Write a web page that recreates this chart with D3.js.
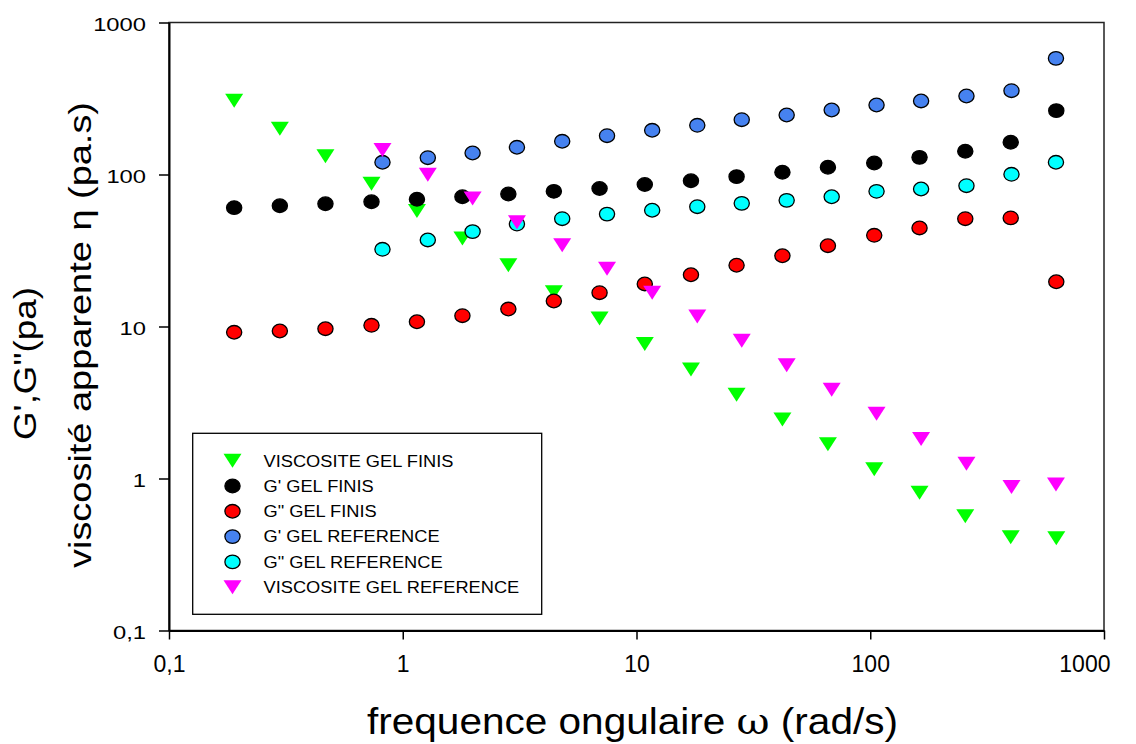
<!DOCTYPE html>
<html lang="fr">
<head>
    <meta charset="UTF-8">
    <title>G', G'' et viscosité</title>
    <script src="https://d3js.org/d3.v7.min.js"></script>
    <style>
        body {
            margin: 0;
            background: white;
            font-family: "Liberation Sans", Arial, sans-serif;
        }
        svg text {
            fill: black;
        }
    </style>
</head>
<body>
    <svg id="chart"></svg>

    <script>
        // frequencies (rad/s)
        const freqFinis = [0.19, 0.298, 0.467, 0.735, 1.15, 1.8, 2.83, 4.43, 6.95, 10.85,
            17.1, 26.8, 42.1, 65.9, 104, 162.5, 255, 399, 625];
        const freqRef = [0.819, 1.28, 1.99, 3.08, 4.81, 7.48, 11.67, 18.2, 28.2, 43.9,
            68.4, 106.4, 165, 258, 402, 623];

        // gel finis
        const viscFinis = [306, 200, 132, 87, 57.5, 37.9, 25.3, 16.8, 11.3, 7.67,
            5.21, 3.56, 2.44, 1.68, 1.15, 0.806, 0.564, 0.41, 0.404];
        const gPrimeFinis = [60.5, 62.3, 64.2, 66.2, 68.7, 71.4, 74.4, 77.5, 80.9, 86.0,
            91.0, 96.8, 103.4, 111.5, 119, 129.7, 142.2, 163, 263];
        const gSecondFinis = [9.16, 9.34, 9.67, 10.18, 10.75, 11.78, 13.03, 14.71, 16.69, 19.05,
            21.9, 25.3, 29.2, 34.0, 39.8, 44.5, 51.2, 51.8, 19.7];

        // gel reference
        const gPrimeRef = [120.3, 129, 138.5, 151, 165.4, 180, 195.4, 210.7, 229.4, 246.3,
            265.7, 286.6, 304.6, 328.5, 355.9, 581];
        const gSecondRef = [32.2, 37.1, 42.1, 47.2, 51.2, 54.9, 58.2, 61.4, 64.6, 67.6,
            71.4, 77.5, 80.3, 84.4, 100.3, 120.3];
        const viscRef = [145, 99.7, 69.5, 48.6, 34.2, 24.0, 16.7, 11.63, 8.05, 5.56,
            3.84, 2.67, 1.82, 1.25, 0.879, 0.913];

        const tickValues = [0.1, 1, 10, 100, 1000];
        const seriesNames = ["VISCOSITE GEL FINIS", "G' GEL FINIS", "G\" GEL FINIS",
            "G' GEL REFERENCE", "G\" GEL REFERENCE", "VISCOSITE GEL REFERENCE"];

        // build series (legend order = drawing order)
        const series = [
            { name: seriesNames[0], x: freqFinis, y: viscFinis, shape: 'tri', fill: '#00ff00' },
            { name: seriesNames[1], x: freqFinis, y: gPrimeFinis, shape: 'circle', fill: '#000000' },
            { name: seriesNames[2], x: freqFinis, y: gSecondFinis, shape: 'circle', fill: '#ff0000' },
            { name: seriesNames[3], x: freqRef, y: gPrimeRef, shape: 'circle', fill: '#4682f0' },
            { name: seriesNames[4], x: freqRef, y: gSecondRef, shape: 'circle', fill: '#00ffff' },
            { name: seriesNames[5], x: freqRef, y: viscRef, shape: 'tri', fill: '#ff00ff' }
        ];

        const svgWidth = 1136;
        const svgHeight = 744;
        const margin = { top: 22.5, right: 32, bottom: 113.5, left: 169 };
        const chartWidth = svgWidth - margin.left - margin.right;
        const chartHeight = svgHeight - margin.top - margin.bottom;

        const svg = d3.select('#chart')
            .attr('width', svgWidth)
            .attr('height', svgHeight);

        const xScale = d3.scaleLog()
            .domain([0.1, 1000])
            .range([margin.left, margin.left + chartWidth]);

        const yScale = d3.scaleLog()
            .domain([0.1, 1000])
            .range([margin.top + chartHeight, margin.top]);

        const fmt = d => String(d).replace('.', ',');

        // stretch a text horizontally by factor k
        function stretch(sel, k) {
            sel.each(function () {
                const w = this.getComputedTextLength();
                d3.select(this)
                    .attr('textLength', w * k)
                    .attr('lengthAdjust', 'spacingAndGlyphs');
            });
        }

        // frame (top / right)
        svg.append('rect')
            .attr('x', margin.left)
            .attr('y', margin.top)
            .attr('width', chartWidth)
            .attr('height', chartHeight)
            .attr('fill', 'none')
            .attr('stroke', '#222')
            .attr('stroke-width', 1.5);

        // x axis
        const xAxis = svg.append('g')
            .attr('transform', `translate(0,${margin.top + chartHeight})`)
            .call(d3.axisBottom(xScale)
                .tickValues(tickValues)
                .tickFormat(fmt)
                .tickSize(9)
                .tickSizeOuter(0)
                .tickPadding(16));
        xAxis.select('.domain').attr('stroke-width', 1.8);
        xAxis.selectAll('.tick line').attr('stroke-width', 1.5);
        xAxis.selectAll('text')
            .attr('font-family', '"Liberation Sans", Arial, sans-serif')
            .attr('font-size', 23)
            .attr('fill', 'black');
        xAxis.selectAll('.tick')
            .filter(d => d === 1000)
            .select('text')
            .attr('text-anchor', 'end')
            .attr('dx', 6);

        // y axis
        const yAxis = svg.append('g')
            .attr('transform', `translate(${margin.left},0)`)
            .call(d3.axisLeft(yScale)
                .tickValues(tickValues)
                .tickFormat(fmt)
                .tickSize(10)
                .tickSizeOuter(0)
                .tickPadding(13));
        yAxis.select('.domain').attr('stroke-width', 2);
        yAxis.selectAll('.tick line').attr('stroke-width', 1.5);
        yAxis.selectAll('text')
            .attr('font-family', '"Liberation Sans", Arial, sans-serif')
            .attr('font-size', 19)
            .attr('fill', 'black')
            .attr('dy', '0.4em')
            .call(stretch, 1.25);

        // marker shapes
        const triPath = 'M-9,-7L9,-7L0,7Z';
        function drawMarker(g, shape, fill) {
            if (shape === 'tri') {
                g.append('path')
                    .attr('d', triPath)
                    .attr('fill', fill);
            } else {
                g.append('ellipse')
                    .attr('rx', 7.6)
                    .attr('ry', 6.8)
                    .attr('fill', fill)
                    .attr('stroke', 'black')
                    .attr('stroke-width', 1.3);
            }
        }

        // points
        series.forEach(s => {
            const pts = s.y.map((v, i) => ({ x: s.x[i], y: v }));
            svg.append('g')
                .selectAll('g')
                .data(pts)
                .enter()
                .append('g')
                .attr('transform', d => `translate(${xScale(d.x)},${yScale(d.y)})`)
                .each(function () { drawMarker(d3.select(this), s.shape, s.fill); });
        });

        // legend
        const legend = svg.append('g');
        legend.append('rect')
            .attr('x', 192.7)
            .attr('y', 433.3)
            .attr('width', 349)
            .attr('height', 181)
            .attr('fill', 'white')
            .attr('stroke', 'black')
            .attr('stroke-width', 1.3);

        series.forEach((s, i) => {
            const row = legend.append('g')
                .attr('transform', `translate(232.5,${460.7 + i * 25.3})`);
            drawMarker(row, s.shape, s.fill);
            row.append('text')
                .attr('x', 31)
                .attr('y', 5.8)
                .attr('font-size', 16)
                .text(s.name)
                .call(stretch, 1.14);
        });

        // x axis title
        const xTitle = svg.append('text')
            .attr('x', 632.5)
            .attr('y', 734)
            .attr('text-anchor', 'middle')
            .attr('font-size', 37)
            .attr('textLength', 531)
            .attr('lengthAdjust', 'spacingAndGlyphs');
        xTitle.append('tspan').text('frequence ongulaire ');
        xTitle.append('tspan').attr('font-family', '"DejaVu Serif", serif').text('ω');
        xTitle.append('tspan').text(' (rad/s)');

        // y axis title (two lines)
        svg.append('text')
            .attr('transform', 'translate(36,363.5) rotate(-90)')
            .attr('text-anchor', 'middle')
            .attr('font-size', 30.5)
            .attr('textLength', 153)
            .attr('lengthAdjust', 'spacingAndGlyphs')
            .text('G\',G"(pa)');

        svg.append('text')
            .attr('transform', 'translate(91,335) rotate(-90)')
            .attr('text-anchor', 'middle')
            .attr('font-size', 30.5)
            .attr('textLength', 466)
            .attr('lengthAdjust', 'spacingAndGlyphs')
            .text('viscosité apparente η (pa.s)');
    </script>
</body>
</html>
